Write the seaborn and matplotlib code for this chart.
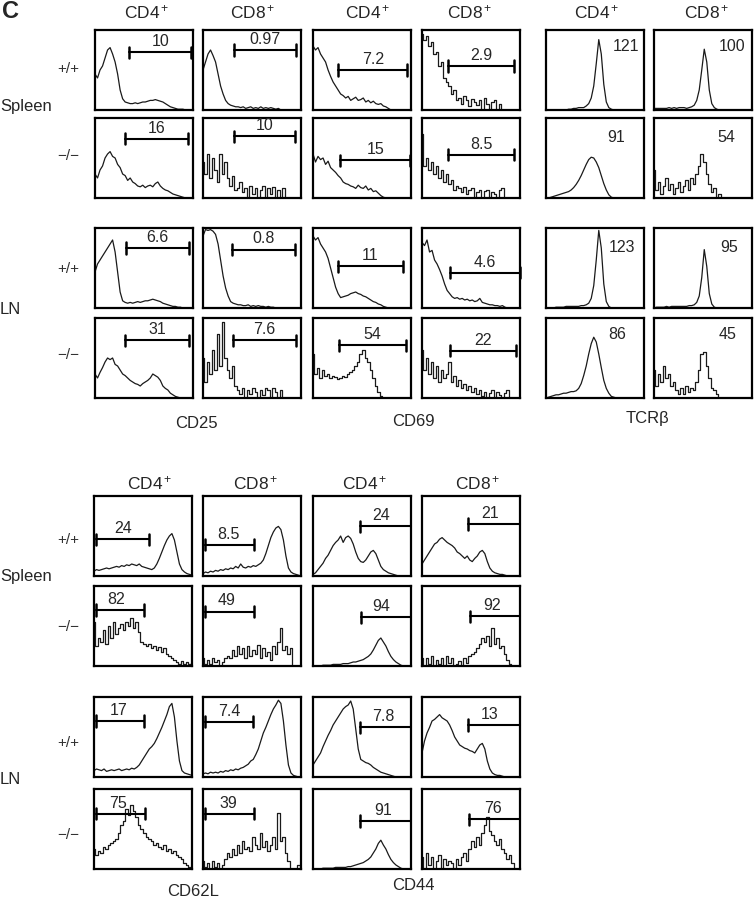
import numpy as np
import pandas as pd
import matplotlib
matplotlib.use('Agg')
import matplotlib.pyplot as plt
import seaborn as sns

sns.set_style('white')
plt.rcParams['font.family'] = ['Liberation Sans', 'DejaVu Sans']
plt.rcParams['mathtext.fontset'] = 'custom'
plt.rcParams['mathtext.rm'] = 'Liberation Sans'
plt.rcParams['mathtext.it'] = 'Liberation Sans'

# ------------- data: histogram traces (% of panel height) -------------
# top block: CD25 / CD69 / TCRb, columns CD4+ / CD8+
spl_wt_cd4_cd25 = [45,40,50,55,65,75,78,70,60,45,25,14,10,9,8,8,9,8,9,10,10,11,12,12,13,12,11,10,8,6,4,3,2,1,1,1,0,0,0,0]
spl_wt_cd8_cd25 = [50,60,70,75,68,60,45,30,20,12,8,6,5,4,4,3,4,2,3,4,2,3,2,4,2,3,2,3,2,1,2,0,0,0,0,0,0,0,0,0]
spl_wt_cd4_cd69 = [80,75,78,70,65,60,50,42,35,30,25,20,18,15,17,12,14,16,12,13,15,10,12,9,11,8,7,8,5,4,2,0,0,0,0,0,0,0,0,0]
spl_wt_cd8_cd69 = [95,88,92,80,85,70,72,55,60,40,35,30,20,25,12,15,8,18,12,5,14,10,6,12,0,15,8,0,10,12,0,8,0,0,0,0,0,0,0,0]
spl_wt_cd4_tcr = [0,0,0,0,0,0,0,0,0,1,1,2,2,3,3,3,5,8,15,30,58,88,70,32,10,3,1,0,0,0,0,0,0,0,0,0,0,0,0,0]
spl_wt_cd8_tcr = [2,2,2,2,2,2,3,2,3,2,3,3,3,2,3,4,6,12,25,50,76,60,25,8,3,1,0,0,0,0,0,0,0,0,0,0,0,0,0,0]

spl_ko_cd4_cd25 = [30,25,35,40,50,55,58,52,50,42,38,30,28,22,25,20,18,15,14,16,13,15,16,14,18,20,15,12,10,9,7,5,4,3,2,1,0,0,0,0]
spl_ko_cd8_cd25 = [45,30,55,25,50,35,20,55,30,45,25,15,28,10,12,20,8,12,0,15,5,12,0,10,15,0,12,5,14,0,10,0,12,0,0,0,0,0,0,0]
spl_ko_cd4_cd69 = [55,45,52,48,50,42,46,38,35,32,28,25,20,18,17,15,14,12,16,13,12,15,10,12,8,9,6,3,1,0,0,0,0,0,0,0,0,0,0,0]
spl_ko_cd8_cd69 = [80,40,50,35,45,30,40,25,35,20,30,18,22,10,15,12,8,14,5,10,12,0,8,10,0,9,10,0,8,5,0,10,12,0,0,0,0,0,0,0]
spl_ko_cd4_tcr = [0,0,1,2,3,4,5,6,7,8,10,13,17,22,28,35,42,48,51,50,45,38,28,18,10,4,1,0,0,0,0,0,0,0,0,0,0,0,0,0]
spl_ko_cd8_tcr = [35,10,20,5,15,25,10,18,5,12,20,8,15,22,10,25,18,30,40,55,45,30,18,8,12,0,5,0,0,0,0,0,0,0,0,0,0,0,0,0]

ln_wt_cd4_cd25 = [45,55,60,65,70,75,80,85,70,45,20,9,7,6,7,6,7,8,7,8,9,9,10,11,10,9,8,6,5,4,3,2,2,1,1,0,0,0,0,0]
ln_wt_cd8_cd25 = [90,98,97,98,96,92,80,60,40,25,15,8,6,5,4,4,3,3,4,2,3,2,3,2,2,1,2,1,1,0,0,0,0,0,0,0,0,0,0,0]
ln_wt_cd4_cd69 = [90,85,88,80,75,70,62,50,38,26,18,13,14,15,16,18,19,20,18,17,15,14,12,10,8,7,5,4,2,1,0,0,0,0,0,0,0,0,0,0]
ln_wt_cd8_cd69 = [82,78,85,70,72,60,55,48,40,30,22,18,14,12,13,11,12,10,11,9,10,8,9,12,7,6,5,4,4,3,3,2,3,1,0,0,0,0,0,0]
ln_wt_cd4_tcr = [0,0,0,0,1,1,1,1,2,2,2,2,2,2,3,3,4,6,12,28,60,97,75,30,8,2,0,0,0,0,0,0,0,0,0,0,0,0,0,0]
ln_wt_cd8_tcr = [0,1,1,1,1,2,1,2,2,2,2,2,2,2,3,3,4,7,15,38,73,52,18,5,1,0,0,0,0,0,0,0,0,0,0,0,0,0,0,0]

ln_ko_cd4_cd25 = [30,25,32,38,45,50,48,50,42,40,35,30,28,25,22,20,18,17,15,18,20,22,25,30,28,26,22,15,12,10,6,4,2,1,0,0,0,0,0,0]
ln_ko_cd8_cd25 = [50,20,45,30,60,35,80,40,95,50,35,25,40,15,10,5,12,0,10,5,12,8,0,10,4,12,10,0,12,8,0,10,0,0,0,0,0,0,0,0]
ln_ko_cd4_cd69 = [55,30,38,25,35,28,30,25,28,26,24,25,28,26,30,32,35,40,45,55,60,50,45,35,25,15,8,3,0,0,0,0,0,0,0,0,0,0,0,0]
ln_ko_cd8_cd69 = [60,35,50,30,45,25,40,20,35,25,30,45,20,28,15,22,12,18,10,15,8,12,5,10,3,8,0,6,10,0,8,4,0,6,10,0,0,0,0,0]
ln_ko_cd4_tcr = [0,1,2,3,4,4,5,6,6,7,8,8,9,12,18,28,40,55,68,76,70,55,38,22,12,6,2,1,0,0,0,0,0,0,0,0,0,0,0,0]
ln_ko_cd8_tcr = [35,15,30,20,40,25,30,15,20,10,5,12,5,15,8,12,10,20,35,55,58,40,25,12,10,5,0,0,0,0,0,0,0,0,0,0,0,0,0,0]

# bottom block: CD62L / CD44, columns CD4+ / CD8+
spl_wt_cd4_cd62l = [6,8,7,8,9,10,9,10,11,12,11,13,12,14,13,15,14,13,15,12,11,10,9,8,10,15,22,30,38,45,50,53,45,30,15,8,5,3,2,1]
spl_wt_cd8_cd62l = [3,5,4,6,5,7,6,8,7,9,8,10,9,12,10,15,11,10,12,11,13,12,14,16,20,28,38,48,55,60,62,58,45,25,10,5,3,2,1,0]
spl_wt_cd4_cd44 = [2,4,8,12,16,22,26,32,38,42,45,50,42,48,50,47,40,30,22,18,17,20,25,30,32,28,20,12,8,6,4,3,2,1,0,0,0,0,0,0]
spl_wt_cd8_cd44 = [15,20,25,30,35,40,42,46,48,45,42,40,38,35,30,28,25,22,25,20,18,22,25,30,32,28,18,10,6,4,3,2,2,1,0,0,0,0,0,0]

spl_ko_cd4_cd62l = [55,25,35,30,45,28,50,35,55,40,48,52,45,55,50,60,48,55,42,30,28,25,27,22,25,20,24,18,22,15,12,10,8,5,3,6,2,5,3,4]
spl_ko_cd8_cd62l = [10,3,8,2,10,5,8,0,5,10,12,10,20,12,25,15,22,10,25,12,20,15,26,10,22,12,18,8,25,15,30,47,20,25,15,22,0,0,0,0]
spl_ko_cd4_cd44 = [0,0,0,0,1,1,1,1,2,2,2,2,3,3,3,4,5,5,6,7,8,10,12,15,20,26,32,35,30,25,18,12,8,5,3,1,0,0,0,0]
spl_ko_cd8_cd44 = [10,0,10,3,12,0,8,2,10,0,12,4,10,0,2,6,0,10,4,12,15,18,22,28,35,30,38,25,47,28,35,22,25,15,8,2,0,0,0,0]

ln_wt_cd4_cd62l = [8,10,9,8,10,7,8,9,8,9,10,8,9,10,9,11,10,12,15,20,25,30,35,38,42,48,55,62,70,78,88,92,75,45,20,8,5,4,3,2]
ln_wt_cd8_cd62l = [4,5,4,6,5,6,5,7,6,8,7,9,8,10,9,11,12,14,16,20,22,28,35,45,55,62,70,78,85,90,96,92,70,40,15,5,2,1,0,0]
ln_wt_cd4_cd44 = [15,20,25,30,38,45,52,58,65,70,75,80,85,88,90,95,85,60,35,22,20,18,17,15,12,10,8,6,5,4,3,2,1,0,0,0,0,0,0,0]
ln_wt_cd8_cd44 = [30,45,55,62,70,72,75,78,74,72,70,65,58,50,45,40,38,36,35,33,32,30,35,40,42,35,20,10,5,3,2,2,1,0,0,0,0,0,0,0]

ln_ko_cd4_cd62l = [25,18,22,20,28,25,30,32,35,38,45,55,60,75,68,80,72,65,55,50,45,40,38,35,30,32,28,25,30,22,25,20,22,18,15,12,8,5,3,2]
ln_ko_cd8_cd62l = [10,3,8,0,10,2,8,0,5,12,20,15,25,18,30,20,35,25,28,22,40,30,25,45,28,35,22,30,40,25,70,35,40,20,10,0,0,0,5,0]
ln_ko_cd4_cd44 = [0,0,0,0,1,1,1,1,1,2,2,2,2,2,3,3,4,5,6,7,8,10,12,15,20,25,32,36,30,25,18,12,8,5,3,1,0,0,0,0]
ln_ko_cd8_cd44 = [15,0,20,5,15,0,10,18,0,12,5,10,8,0,12,5,15,20,10,25,35,28,40,30,45,55,65,48,42,35,30,38,25,20,12,18,8,0,0,0]

# gate percentages / MFI values
top_pct = [["10", "0.97", "7.2", "2.9"],
           ["16", "10", "15", "8.5"],
           ["6.6", "0.8", "11", "4.6"],
           ["31", "7.6", "54", "22"]]
tcr_mfi = [["121", "100"], ["91", "54"], ["123", "95"], ["86", "45"]]
bot_pct = [["24", "8.5", "24", "21"],
           ["82", "49", "94", "92"],
           ["17", "7.4", "7.8", "13"],
           ["75", "39", "91", "76"]]

top_traces = [
    [spl_wt_cd4_cd25, spl_wt_cd8_cd25, spl_wt_cd4_cd69, spl_wt_cd8_cd69, spl_wt_cd4_tcr, spl_wt_cd8_tcr],
    [spl_ko_cd4_cd25, spl_ko_cd8_cd25, spl_ko_cd4_cd69, spl_ko_cd8_cd69, spl_ko_cd4_tcr, spl_ko_cd8_tcr],
    [ln_wt_cd4_cd25, ln_wt_cd8_cd25, ln_wt_cd4_cd69, ln_wt_cd8_cd69, ln_wt_cd4_tcr, ln_wt_cd8_tcr],
    [ln_ko_cd4_cd25, ln_ko_cd8_cd25, ln_ko_cd4_cd69, ln_ko_cd8_cd69, ln_ko_cd4_tcr, ln_ko_cd8_tcr],
]
bot_traces = [
    [spl_wt_cd4_cd62l, spl_wt_cd8_cd62l, spl_wt_cd4_cd44, spl_wt_cd8_cd44],
    [spl_ko_cd4_cd62l, spl_ko_cd8_cd62l, spl_ko_cd4_cd44, spl_ko_cd8_cd44],
    [ln_wt_cd4_cd62l, ln_wt_cd8_cd62l, ln_wt_cd4_cd44, ln_wt_cd8_cd44],
    [ln_ko_cd4_cd62l, ln_ko_cd8_cd62l, ln_ko_cd4_cd44, ln_ko_cd8_cd44],
]

# ------------- layout (pixels of a 755x900 canvas) -------------
W, H = 755, 900
PW, PH = 98, 80
top_cols = [95, 203, 313, 422, 546, 654]
top_rows = [30, 118, 228, 318]
bot_cols = [94, 203, 313, 422]
bot_rows = [496, 586, 697, 789]

# which traces are sparse (few events) -> drawn as steps
top_steps = [[False, False, False, True, False, False],
             [False, True, False, True, False, True],
             [False, False, False, False, False, False],
             [False, True, True, True, False, True]]
bot_steps = [[False, False, False, False],
             [True, True, False, True],
             [False, False, False, False],
             [True, True, False, True]]

# gate: (start, end, height)
top_gates = [[(0.35, 0.98, 72), (0.32, 0.95, 75), (0.26, 0.96, 50), (0.27, 0.94, 55)],
             [(0.31, 0.95, 74), (0.32, 0.94, 77), (0.28, 0.99, 47), (0.27, 0.94, 54)],
             [(0.32, 0.96, 75), (0.30, 0.94, 73), (0.25, 0.92, 52), (0.29, 1.00, 44)],
             [(0.31, 0.96, 72), (0.31, 0.95, 72), (0.27, 0.95, 66), (0.29, 0.96, 59)]]
tcr_pos = [[(0.82, 79), (0.80, 79)], [(0.72, 76), (0.74, 76)],
           [(0.78, 75), (0.77, 75)], [(0.73, 79), (0.75, 79)]]
# gate: (start, end, height, label x)
bot_gates = [[(0.02, 0.56, 46, 0.30), (0.02, 0.52, 39, 0.26), (0.48, 1.0, 62, 0.70), (0.47, 1.0, 65, 0.69)],
             [(0.02, 0.51, 70, 0.23), (0.02, 0.52, 68, 0.24), (0.49, 1.0, 61, 0.70), (0.49, 1.0, 62, 0.72)],
             [(0.02, 0.51, 70, 0.25), (0.02, 0.51, 69, 0.27), (0.48, 1.0, 62, 0.72), (0.47, 1.0, 65, 0.69)],
             [(0.02, 0.52, 69, 0.24), (0.02, 0.52, 69, 0.26), (0.48, 1.0, 60, 0.72), (0.48, 1.0, 62, 0.72)]]

fig = plt.figure(figsize=(W / 100, H / 100), dpi=100)


def panel(left, top):
    ax = fig.add_axes([left / W, 1 - (top + PH) / H, PW / W, PH / H])
    ax.set_xticks([])
    ax.set_yticks([])
    for s in ax.spines.values():
        s.set_visible(True)
        s.set_linewidth(1.6)
        s.set_color('black')
    return ax


def trace(ax, vals, steps=False):
    df = pd.DataFrame({'x': np.linspace(0, 1, len(vals)), 'y': vals})
    sns.lineplot(data=df, x='x', y='y', ax=ax, color='#1a1a1a', lw=0.9,
                 drawstyle='steps-mid' if steps else 'default')
    ax.set_xlim(0, 1)
    ax.set_ylim(0, 100)
    ax.set_xlabel('')
    ax.set_ylabel('')


def gate(ax, x0, x1, y, left_tick=True, right_tick=True):
    ax.plot([x0, x1], [y, y], color='black', lw=1.5, clip_on=False)
    if left_tick:
        ax.plot([x0, x0], [y - 7, y + 7], color='black', lw=1.8, clip_on=False)
    if right_tick:
        ax.plot([x1, x1], [y - 7, y + 7], color='black', lw=1.8, clip_on=False)


def ftext(x, y, s, **kw):
    fig.text(x / W, 1 - y / H, s, **kw)


# ---- top block ----
for r in range(4):
    for c in range(6):
        ax = panel(top_cols[c], top_rows[r])
        trace(ax, top_traces[r][c], steps=top_steps[r][c])
        if c < 4:
            x0, x1, y = top_gates[r][c]
            gate(ax, x0, x1, y)
            ax.text((x0 + x1) / 2, y + 4, top_pct[r][c], ha='center', va='bottom', fontsize=11.5)
        else:
            tx, ty = tcr_pos[r][c - 4]
            ax.text(tx, ty, tcr_mfi[r][c - 4], ha='center', va='center', fontsize=11.5)

# ---- bottom block ----
for r in range(4):
    for c in range(4):
        ax = panel(bot_cols[c], bot_rows[r])
        trace(ax, bot_traces[r][c], steps=bot_steps[r][c])
        x0, x1, y, lx = bot_gates[r][c]
        gate(ax, x0, x1, y, right_tick=(c < 2))
        ax.text(lx, y + 4, bot_pct[r][c], ha='center', va='bottom', fontsize=11.5)

# ---- labels ----
ftext(2, 12, 'C', fontsize=17, fontweight='bold', ha='left', va='center')
for x, lab in zip([147, 253, 368, 470, 597, 707], ['CD4', 'CD8'] * 3):
    ftext(x, 12, lab + '$^+$', fontsize=12.5, ha='center', va='center')
for x, lab in zip([150, 256, 365, 478], ['CD4', 'CD8'] * 2):
    ftext(x, 483, lab + '$^+$', fontsize=12.5, ha='center', va='center')

for y, lab in [(69, '+/+'), (156, '\u2212/\u2212'), (269, '+/+'), (355, '\u2212/\u2212'),
               (540, '+/+'), (627, '\u2212/\u2212'), (743, '+/+'), (835, '\u2212/\u2212')]:
    ftext(68, y, lab, fontsize=11, ha='center', va='center', color='#333333')
for y, lab in [(106, 'Spleen'), (310, 'LN'), (577, 'Spleen'), (780, 'LN')]:
    ftext(0, y, lab, fontsize=12, ha='left', va='center')

ftext(196, 423, 'CD25', fontsize=12, ha='center', va='center')
ftext(413, 422, 'CD69', fontsize=12, ha='center', va='center')
ftext(647, 418, 'TCR\u03b2', fontsize=12, ha='center', va='center')
ftext(193, 891, 'CD62L', fontsize=12, ha='center', va='center')
ftext(413, 885, 'CD44', fontsize=12, ha='center', va='center')

fig.savefig('out.png', dpi=100, facecolor='white')
